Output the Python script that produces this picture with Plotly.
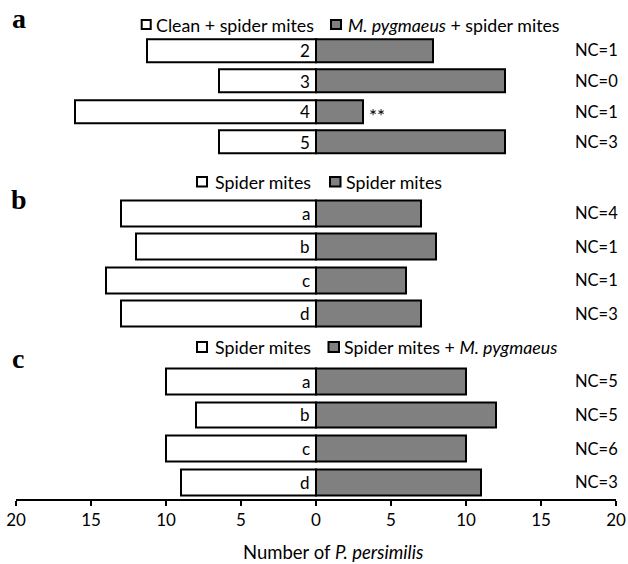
import plotly.graph_objects as go

# ---------------- data ----------------
panel_letters = ["a", "b", "c"]
rows_a = ["2", "3", "4", "5"]
rows_b = ["a", "b", "c", "d"]
rows_c = ["a", "b", "c", "d"]

left_a = [11.3, 6.5, 16.1, 6.5]
right_a = [7.8, 12.6, 3.1, 12.6]
left_b = [13, 12, 14, 13]
right_b = [7, 8, 6, 7]
left_c = [10, 8, 10, 9]
right_c = [10, 12, 10, 11]

nc_a = ["NC=1", "NC=0", "NC=1", "NC=3"]
nc_b = ["NC=4", "NC=1", "NC=1", "NC=3"]
nc_c = ["NC=5", "NC=5", "NC=6", "NC=3"]

legend_a = ["Clean + spider mites", "<i>M. pygmaeus</i> + spider mites"]
legend_b = ["Spider mites", "Spider mites"]
legend_c = ["Spider mites", "Spider mites + <i>M. pygmaeus</i>"]

tick_vals = [-20, -15, -10, -5, 0, 5, 10, 15, 20]
tick_text = ["20", "15", "10", "5", "0", "5", "10", "15", "20"]
x_title = "Number of <i>P. persimilis</i>"

# ---------------- layout helpers ----------------
W, H = 628, 564
ML, MR, MT, MB = 16, 12, 0, 564 - 499
PW, PH = W - ML - MR, H - MT - MB


def px_x(p):
    """page pixel x -> paper fraction"""
    return (p - ML) / PW


def px_y(p):
    """page pixel y -> paper fraction"""
    return (MT + PH - p) / PH


FONT = "Lato"
GREY = "#808080"

panels = [
    dict(rows=rows_a, left=left_a, right=right_a, nc=nc_a, legend=legend_a,
         dom=(35.25, 157.25), ax="y", name="yaxis",
         leg=dict(y=(20, 29), sq1=(141.7, 150.7), t1=154, sq2=(331, 341), t2=346, ty=25),
         lab=(18.5, 18)),
    dict(rows=rows_b, left=left_b, right=right_b, nc=nc_b, legend=legend_b,
         dom=(196.5, 330.5), ax="y2", name="yaxis2",
         leg=dict(y=(177, 186.5), sq1=(197, 207), t1=213, sq2=(330, 340.5), t2=344, ty=182),
         lab=(19, 200)),
    dict(rows=rows_c, left=left_c, right=right_c, nc=nc_c, legend=legend_c,
         dom=(364.4, 499), ax="y3", name="yaxis3",
         leg=dict(y=(342, 352), sq1=(197, 207), t1=213, sq2=(328.5, 339), t2=342, ty=347),
         lab=(17.5, 358)),
]

fig = go.Figure()
annotations = []
shapes = []
layout_axes = {}

for i, p in enumerate(panels):
    fig.add_trace(go.Bar(
        y=p["rows"], x=[-v for v in p["left"]], orientation="h",
        marker=dict(color="white", line=dict(color="black", width=2)),
        width=0.77, xaxis="x", yaxis=p["ax"], showlegend=False, hoverinfo="skip"))
    fig.add_trace(go.Bar(
        y=p["rows"], x=p["right"], orientation="h",
        marker=dict(color=GREY, line=dict(color="black", width=2)),
        width=0.77, xaxis="x", yaxis=p["ax"], showlegend=False, hoverinfo="skip"))

    layout_axes[p["name"]] = dict(
        domain=[px_y(p["dom"][1]), px_y(p["dom"][0])], anchor="x",
        type="category", categoryorder="array", categoryarray=p["rows"],
        range=[3.5, -0.5], visible=False, fixedrange=True)

    # row labels inside white bars and NC labels at right (y given as category index)
    for k, (lab, nc) in enumerate(zip(p["rows"], p["nc"])):
        annotations.append(dict(x=0, y=k, xref="x", yref=p["ax"], text=lab,
                                showarrow=False, xanchor="right", yanchor="middle",
                                xshift=-4, font=dict(family=FONT, size=17, color="black")))
        annotations.append(dict(x=17.13, y=k, xref="x", yref=p["ax"], text=nc,
                                showarrow=False, xanchor="left", yanchor="middle",
                                font=dict(family=FONT, size=16.5, color="black")))

    # legend squares + texts
    lg = p["leg"]
    for sq, col, tx, txt in [(lg["sq1"], "white", lg["t1"], p["legend"][0]),
                             (lg["sq2"], GREY, lg["t2"], p["legend"][1])]:
        shapes.append(dict(type="rect", xref="paper", yref="paper",
                           x0=px_x(sq[0]), x1=px_x(sq[1]),
                           y0=px_y(lg["y"][1]), y1=px_y(lg["y"][0]),
                           fillcolor=col, line=dict(color="black", width=2)))
        annotations.append(dict(x=px_x(tx), y=px_y(lg["ty"]), xref="paper", yref="paper",
                                text=txt, showarrow=False, xanchor="left", yanchor="middle",
                                font=dict(family=FONT, size=17.8, color="black")))

    # panel letter
    annotations.append(dict(x=px_x(p["lab"][0]), y=px_y(p["lab"][1]), xref="paper", yref="paper",
                            text="<b>%s</b>" % panel_letters[i], showarrow=False,
                            xanchor="center", yanchor="middle",
                            font=dict(family="Liberation Serif", size=28, color="black")))

# significance mark after bar "4" in panel a
annotations.append(dict(x=right_a[2], y=2, xref="x", yref="y", text="**",
                        showarrow=False, xanchor="left", yanchor="middle", xshift=4, yshift=-4,
                        font=dict(family=FONT, size=19, color="black")))

# x-axis title
annotations.append(dict(x=px_x(333), y=px_y(552), xref="paper", yref="paper", text=x_title,
                        showarrow=False, xanchor="center", yanchor="middle",
                        font=dict(family=FONT, size=18.5, color="black")))

fig.update_layout(
    width=W, height=H,
    margin=dict(l=ML, r=MR, t=MT, b=MB),
    paper_bgcolor="white", plot_bgcolor="white",
    barmode="relative", bargap=0,
    xaxis=dict(domain=[0, 1], range=[-20, 20], anchor="y3",
               tickvals=tick_vals, ticktext=tick_text,
               ticks="outside", ticklen=5, tickwidth=2, tickcolor="black",
               showline=True, linewidth=2, linecolor="black",
               showgrid=False, zeroline=False, fixedrange=True,
               ticklabeloverflow="allow",
               tickfont=dict(family=FONT, size=17, color="black")),
    annotations=annotations, shapes=shapes,
    **layout_axes,
)

fig.write_html(
    "out.html",
    config={"displayModeBar": False},
    post_script="document.body.style.margin='0';document.body.style.overflow='hidden';",
)
